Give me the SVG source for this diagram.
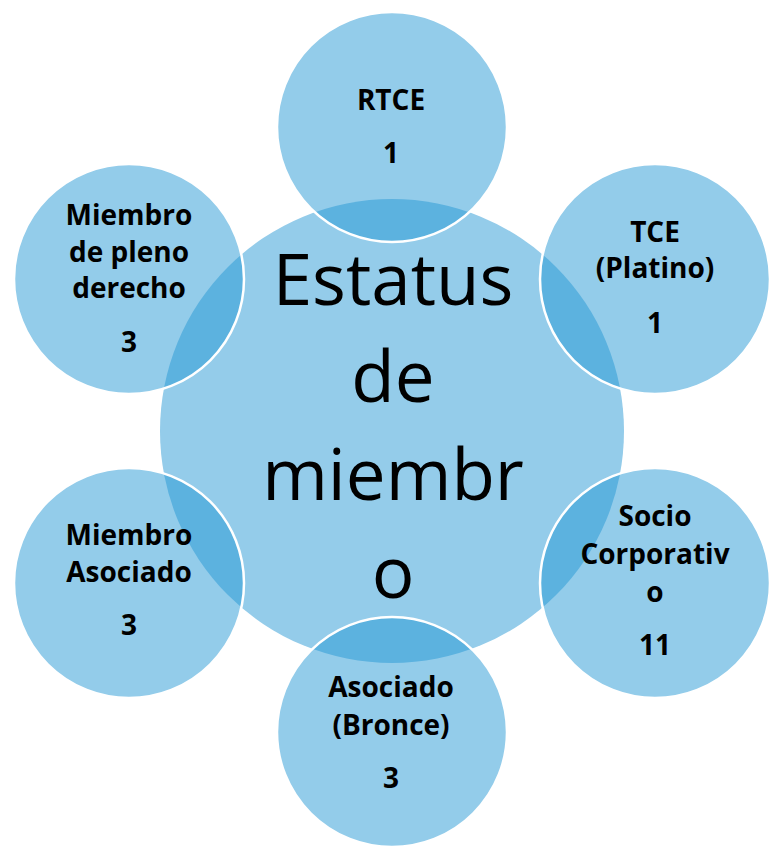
<svg xmlns="http://www.w3.org/2000/svg" width="769" height="846" viewBox="0 0 769 846">
<style>
.bg{fill:#ffffff}
.hub{fill:#94CCEA}
.sat{fill:rgb(35,150,212);fill-opacity:0.49;stroke:#ffffff;stroke-width:2.5}
.hubtxt{font-family:"Open Sans","Liberation Sans",sans-serif;font-size:71px;fill:#000;text-anchor:middle}
.lbl{font-family:"Open Sans","Liberation Sans",sans-serif;font-size:28px;font-weight:bold;fill:#000;text-anchor:middle}
</style>
<rect class="bg" x="0" y="0" width="769" height="846"/>
<g id="connectors"/>
<g id="hub">
<circle class="hub" cx="392" cy="431" r="232"/>
<text class="hubtxt" x="393" y="305">Estatus</text>
<text class="hubtxt" x="393" y="402">de</text>
<text class="hubtxt" x="393" y="500">miembr</text>
<text class="hubtxt" x="393" y="598">o</text>
</g>
<g id="node-rtce">
<circle class="sat" cx="392" cy="127" r="115"/>
<text class="lbl" x="391" y="110">RTCE</text>
<text class="lbl" x="391" y="163">1</text>
</g>
<g id="node-tce">
<circle class="sat" cx="655" cy="279" r="115"/>
<text class="lbl" x="655" y="242">TCE</text>
<text class="lbl" x="655" y="278">(Platino)</text>
<text class="lbl" x="655" y="333">1</text>
</g>
<g id="node-socio">
<circle class="sat" cx="655" cy="583" r="115"/>
<text class="lbl" x="655" y="526">Socio</text>
<text class="lbl" x="655" y="564">Corporativ</text>
<text class="lbl" x="655" y="602">o</text>
<text class="lbl" x="655" y="655">11</text>
</g>
<g id="node-bronce">
<circle class="sat" cx="392" cy="732" r="115"/>
<text class="lbl" x="391" y="697">Asociado</text>
<text class="lbl" x="391" y="735">(Bronce)</text>
<text class="lbl" x="391" y="788">3</text>
</g>
<g id="node-asociado">
<circle class="sat" cx="129" cy="583" r="115"/>
<text class="lbl" x="129" y="545">Miembro</text>
<text class="lbl" x="129" y="582">Asociado</text>
<text class="lbl" x="129" y="635">3</text>
</g>
<g id="node-pleno">
<circle class="sat" cx="129" cy="279" r="115"/>
<text class="lbl" x="129" y="225">Miembro</text>
<text class="lbl" x="129" y="262">de pleno</text>
<text class="lbl" x="129" y="298">derecho</text>
<text class="lbl" x="129" y="352">3</text>
</g>
</svg>
